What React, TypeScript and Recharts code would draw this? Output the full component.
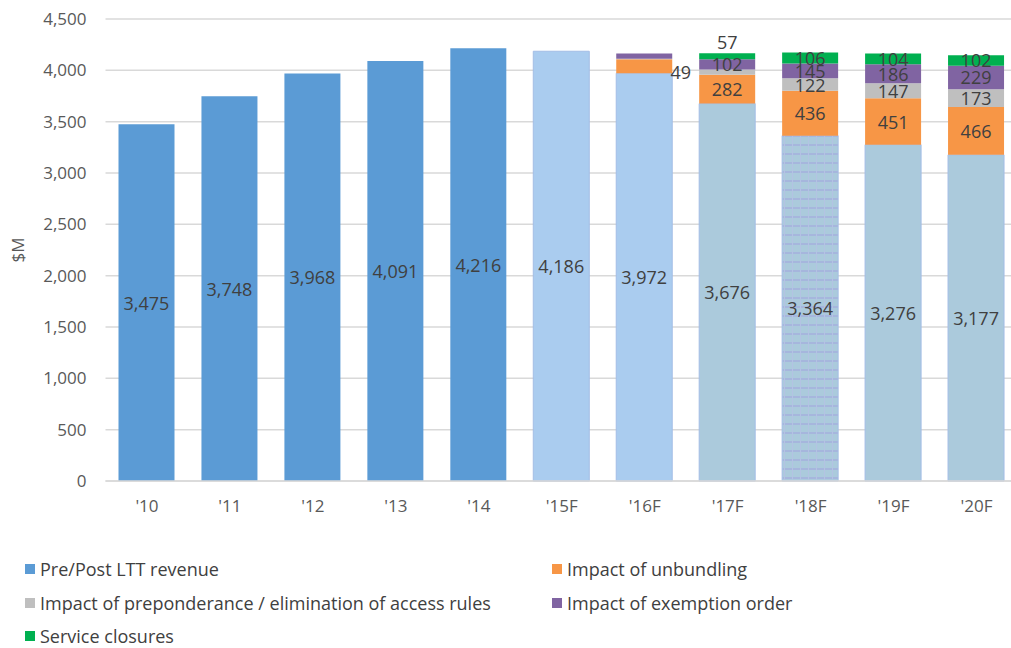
import React from "react";
import {
  BarChart,
  Bar,
  XAxis,
  YAxis,
  CartesianGrid,
  Cell,
  LabelList,
} from "recharts";

const categories = ["'10", "'11", "'12", "'13", "'14", "'15F", "'16F", "'17F", "'18F", "'19F", "'20F"];
const revenue = [3475, 3748, 3968, 4091, 4216, 4186, 3972, 3676, 3364, 3276, 3177];
const unbundling = [null, null, null, null, null, null, 135, 282, 436, 451, 466];
const preponderance = [null, null, null, null, null, null, 6, 49, 122, 147, 173];
const exemption = [null, null, null, null, null, null, 52, 102, 145, 186, 229];
const closures = [null, null, null, null, null, null, null, 57, 106, 104, 102];
const yTicks = [0, 500, 1000, 1500, 2000, 2500, 3000, 3500, 4000, 4500];

const legendItems = [
  { name: "Pre/Post LTT revenue", color: "#5b9bd5" },
  { name: "Impact of unbundling", color: "#f79646" },
  { name: "Impact of preponderance / elimination of access rules", color: "#bfbfbf" },
  { name: "Impact of exemption order", color: "#8064a2" },
  { name: "Service closures", color: "#00b050" },
];

const data = categories.map((c, i) => ({
  name: c,
  revenue: revenue[i],
  unbundling: unbundling[i],
  preponderance: preponderance[i],
  exemption: exemption[i],
  closures: closures[i],
}));

const FONT = "'Open Sans', 'Noto Sans', sans-serif";
const fmt = (v: number) => v.toLocaleString("en-US");

// plot geometry, used to find which year a label belongs to
const PLOT_LEFT = 105.5;
const PLOT_RIGHT = 1018;
const band = (PLOT_RIGHT - PLOT_LEFT) / categories.length;

// colour of the revenue bar per year
const revenueFill = (i: number) => {
  if (i < 5) return "#5b9bd5";
  if (i < 7) return "#aaccef";
  if (i === 8) return "url(#hatch18)";
  return "#abcadc";
};

const makeLabel = (series: string) => (props: any) => {
  const { x, y, width, height, value } = props;
  if (value == null || value === 0) return null;
  const idx = Math.floor((x + width / 2 - PLOT_LEFT) / band);
  // '16F small segments are not labelled
  if (idx === 6 && series !== "revenue") return null;
  let tx = x + width / 2;
  let ty = y + height / 2;
  let anchor = "middle";
  if (idx === 7 && series === "preponderance") {
    tx = x - 8;
    anchor = "end";
  }
  if (idx === 7 && series === "closures") {
    ty = y - 11;
  }
  return (
    <text
      x={tx}
      y={ty}
      textAnchor={anchor}
      dominantBaseline="central"
      fontSize={18}
      fontFamily={FONT}
      fill="#404040"
    >
      {fmt(value)}
    </text>
  );
};

export default function App() {
  return (
    <div
      style={{
        position: "absolute",
        left: 0,
        top: 0,
        width: 1011,
        height: 648,
        overflow: "hidden",
        background: "#fff",
        fontFamily: FONT,
      }}
    >
      <BarChart
        width={1030}
        height={530}
        data={data}
        margin={{ top: 19, right: 1030 - PLOT_RIGHT, left: 0, bottom: 19 }}
        barSize={56}
      >
        <defs>
          <pattern id="hatch18" patternUnits="userSpaceOnUse" width="8" height="9">
            <rect width="8" height="9" fill="#abcadc" />
            <rect y="0" width="8" height="2" fill="#a6b6dd" />
            <rect x="0" y="0" width="1" height="9" fill="#b3c3e3" />
          </pattern>
        </defs>
        <CartesianGrid vertical={false} stroke="#d9d9d9" strokeWidth={1.5} />
        <XAxis
          dataKey="name"
          height={30}
          tickLine={false}
          axisLine={{ stroke: "#d9d9d9", strokeWidth: 1.5 }}
          tick={{ fontSize: 17, fill: "#595959", fontFamily: FONT }}
          tickMargin={13}
        />
        <YAxis
          width={PLOT_LEFT}
          domain={[0, 4500]}
          ticks={yTicks}
          interval={0}
          tickFormatter={fmt}
          axisLine={false}
          tickLine={false}
          tickSize={0}
          tickMargin={19}
          tick={{ fontSize: 17, fill: "#595959", fontFamily: FONT }}
          label={{
            value: "$M",
            angle: -90,
            position: "insideLeft",
            offset: 18,
            style: { fontSize: 17, fill: "#595959", fontFamily: FONT, textAnchor: "middle" },
          }}
        />
        <Bar dataKey="revenue" stackId="a" isAnimationActive={false}>
          {data.map((_, i) => (
            <Cell
              key={i}
              fill={revenueFill(i)}
              stroke={i < 5 ? "none" : "#a3bde6"}
              strokeWidth={1}
            />
          ))}
          <LabelList dataKey="revenue" content={makeLabel("revenue")} />
        </Bar>
        <Bar dataKey="unbundling" stackId="a" fill="#f79646" isAnimationActive={false}>
          <LabelList dataKey="unbundling" content={makeLabel("unbundling")} />
        </Bar>
        <Bar dataKey="preponderance" stackId="a" fill="#bfbfbf" isAnimationActive={false}>
          <LabelList dataKey="preponderance" content={makeLabel("preponderance")} />
        </Bar>
        <Bar dataKey="exemption" stackId="a" fill="#8064a2" isAnimationActive={false}>
          <LabelList dataKey="exemption" content={makeLabel("exemption")} />
        </Bar>
        <Bar dataKey="closures" stackId="a" fill="#00b050" isAnimationActive={false}>
          <LabelList dataKey="closures" content={makeLabel("closures")} />
        </Bar>
      </BarChart>

      {/* legend, two columns */}
      {legendItems.map((item, i) => {
        const col = i % 2;
        const row = Math.floor(i / 2);
        return (
          <div
            key={item.name}
            style={{
              position: "absolute",
              left: col === 0 ? 25 : 552,
              top: 569 + row * 33.5 - 13,
              height: 26,
              display: "flex",
              alignItems: "center",
              fontSize: 18,
              color: "#404040",
              whiteSpace: "nowrap",
            }}
          >
            <span
              style={{
                display: "inline-block",
                width: 10,
                height: 10,
                background: item.color,
                marginRight: 5,
              }}
            />
            {item.name}
          </div>
        );
      })}
    </div>
  );
}
